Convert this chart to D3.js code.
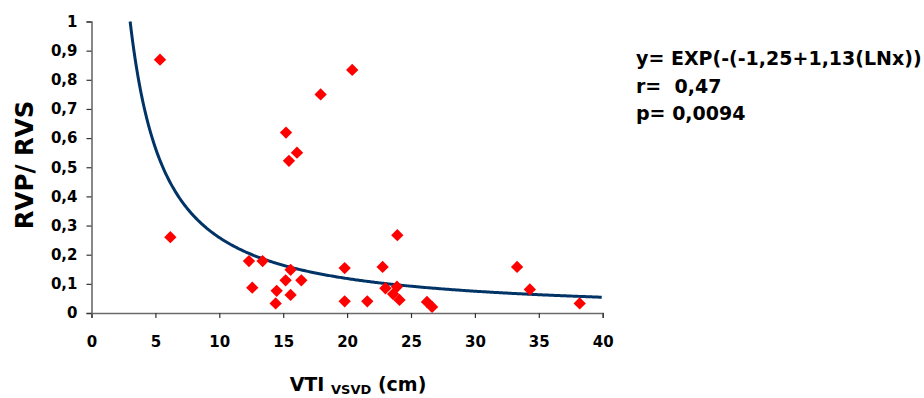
<!DOCTYPE html>
<html>
<head>
<meta charset="utf-8">
<script src="https://cdn.jsdelivr.net/npm/d3@7"></script>
<style>
  body { margin: 0; background: #fff; }
  svg text { font-family: "DejaVu Sans", Arial, sans-serif; }
</style>
</head>
<body>
<div id="chart"></div>
<script>
// Data
const vti = [5.36, 6.17, 12.32, 12.58, 13.39, 14.41, 14.49, 15.19, 15.22, 15.45, 15.58, 15.58,
             16.08, 16.42, 17.93, 19.81, 19.81, 20.4, 21.58, 22.78, 23.0, 23.6, 23.9, 23.93,
             24.1, 26.25, 26.65, 33.3, 34.3, 38.2];
const ratio = [0.869, 0.260, 0.178, 0.087, 0.178, 0.033, 0.076, 0.112, 0.619, 0.522, 0.148, 0.062,
               0.550, 0.112, 0.750, 0.154, 0.040, 0.834, 0.040, 0.158, 0.085, 0.065, 0.090, 0.267,
               0.045, 0.038, 0.021, 0.158, 0.081, 0.033];
// fitted curve y = EXP(-(a + b*LN x)), coefficients as printed on the chart
const fitA = -1.25, fitB = 1.13;
const xTicks = [0, 5, 10, 15, 20, 25, 30, 35, 40];
const yTicks = [0, 0.1, 0.2, 0.3, 0.4, 0.5, 0.6, 0.7, 0.8, 0.9, 1];
const legendLines = ["y= EXP(-(-1,25+1,13(LNx))", "r=  0,47", "p= 0,0094"];

const W = 924, H = 398;
const plot = {left: 91.5, right: 602.7, top: 21.5, bottom: 313};

const svg = d3.select("#chart").append("svg")
    .attr("width", W)
    .attr("height", H);

const x = d3.scaleLinear().domain([0, 40]).range([plot.left, plot.right]);
const y = d3.scaleLinear().domain([0, 1]).range([plot.bottom, plot.top]);

const comma = d => String(d3.format(".1~f")(d)).replace(".", ",");

// axes
const xAxis = d3.axisBottom(x).tickValues(xTicks).tickSize(5).tickPadding(18).tickFormat(d => d);
const yAxis = d3.axisLeft(y).tickValues(yTicks).tickSize(5).tickPadding(9).tickFormat(comma);

svg.append("g")
    .attr("transform", "translate(0," + plot.bottom + ")")
    .call(xAxis)
    .call(g => g.select(".domain").attr("stroke", "#6b6b6b").attr("stroke-width", 1.6))
    .call(g => g.selectAll(".tick line").attr("stroke", "#333").attr("stroke-width", 1.2))
    .call(g => g.selectAll("text")
        .style("font-size", "15px").style("font-weight", "bold").attr("fill", "#000"));

svg.append("g")
    .attr("transform", "translate(" + plot.left + ",0)")
    .call(yAxis)
    .call(g => g.select(".domain").attr("stroke", "#6b6b6b").attr("stroke-width", 1.6))
    .call(g => g.selectAll(".tick line").attr("stroke", "#333").attr("stroke-width", 1.2))
    .call(g => g.selectAll("text")
        .style("font-size", "15px").style("font-weight", "bold").attr("fill", "#000"));

// fitted curve
const xStart = Math.exp(-fitA / fitB); // where the curve reaches y = 1
const curveX = d3.range(xStart, 40.0001, 0.1);
const line = d3.line()
    .x(d => x(d))
    .y(d => y(Math.exp(-(fitA + fitB * Math.log(d)))));

svg.append("path")
    .datum(curveX)
    .attr("d", line)
    .attr("fill", "none")
    .attr("stroke", "#003366")
    .attr("stroke-width", 3);

// points
const diamond = d3.symbol(d3.symbolSquare).size(76);
svg.selectAll(".pt")
    .data(vti)
    .enter().append("path")
    .attr("class", "pt")
    .attr("d", diamond)
    .attr("transform", (d, i) => "translate(" + x(d) + "," + y(ratio[i]) + ") rotate(45)")
    .attr("fill", "#ff0000");

// axis titles
svg.append("text")
    .attr("transform", "translate(33,165) rotate(-90)")
    .attr("text-anchor", "middle")
    .style("font-size", "24.5px")
    .style("font-weight", "bold")
    .text("RVP/ RVS");

const xt = svg.append("text")
    .attr("x", 358)
    .attr("y", 391)
    .attr("text-anchor", "middle")
    .style("font-size", "19px")
    .style("font-weight", "bold");
xt.append("tspan").text("VTI ");
xt.append("tspan").attr("dy", 3).style("font-size", "13px").text("VSVD");
xt.append("tspan").attr("dy", -3).text(" (cm)");

// equation text
svg.selectAll(".eq")
    .data(legendLines)
    .enter().append("text")
    .attr("class", "eq")
    .attr("x", 636)
    .attr("y", (d, i) => 65 + i * 27.5)
    .style("font-size", "19px")
    .style("font-weight", "bold")
    .style("white-space", "pre")
    .text(d => d);
</script>
</body>
</html>
